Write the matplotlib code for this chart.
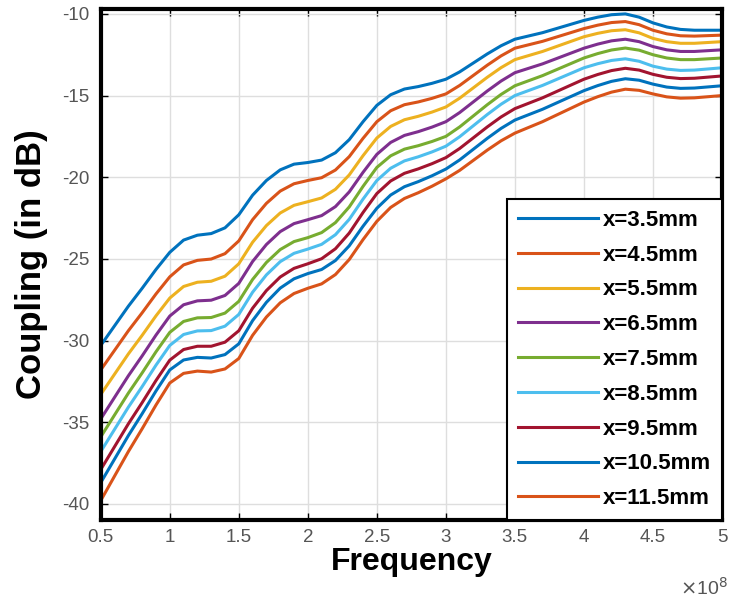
import matplotlib
matplotlib.use("Agg")
import matplotlib.pyplot as plt
import numpy as np
from matplotlib.ticker import FuncFormatter

plt.rcParams['font.family'] = ['Liberation Sans', 'DejaVu Sans']
plt.rcParams['axes.unicode_minus'] = False

# frequency in units of 1e8 Hz
freq_e8 = [0.5, 0.6, 0.7, 0.8, 0.9, 1.0, 1.1, 1.2, 1.3, 1.4,
           1.5, 1.6, 1.7, 1.8, 1.9, 2.0, 2.1, 2.2, 2.3, 2.4,
           2.5, 2.6, 2.7, 2.8, 2.9, 3.0, 3.1, 3.2, 3.3, 3.4,
           3.5, 3.6, 3.7, 3.8, 3.9, 4.0, 4.1, 4.2, 4.3, 4.4,
           4.5, 4.6, 4.7, 4.8, 4.9, 5.0]

x35 = [-30.3, -29.1, -27.9, -26.8, -25.65, -24.6, -23.85, -23.55, -23.45, -23.1,
       -22.3, -21.1, -20.2, -19.55, -19.2, -19.1, -18.95, -18.5, -17.7, -16.6,
       -15.6, -14.95, -14.6, -14.45, -14.25, -14.0, -13.55, -13.0, -12.45, -11.95,
       -11.55, -11.35, -11.15, -10.9, -10.65, -10.4, -10.2, -10.05, -10.0, -10.2,
       -10.55, -10.8, -10.95, -11.0, -11.0, -11.0]
x45 = [-31.8, -30.6, -29.4, -28.3, -27.15, -26.1, -25.37, -25.09, -25.01, -24.68,
       -23.9, -22.6, -21.6, -20.85, -20.4, -20.2, -20.03, -19.56, -18.74, -17.62,
       -16.6, -15.93, -15.56, -15.39, -15.17, -14.9, -14.38, -13.76, -13.14, -12.57,
       -12.1, -11.89, -11.68, -11.42, -11.16, -10.9, -10.69, -10.53, -10.47, -10.66,
       -11.0, -11.22, -11.34, -11.36, -11.33, -11.3]
x55 = [-33.3, -32.06, -30.82, -29.68, -28.49, -27.4, -26.69, -26.43, -26.37, -26.06,
       -25.3, -23.98, -22.96, -22.19, -21.72, -21.5, -21.27, -20.74, -19.86, -18.68,
       -17.6, -16.89, -16.48, -16.27, -16.01, -15.7, -15.16, -14.52, -13.88, -13.29,
       -12.8, -12.55, -12.3, -12.0, -11.7, -11.4, -11.19, -11.03, -10.97, -11.16,
       -11.5, -11.7, -11.8, -11.8, -11.75, -11.7]
x65 = [-34.8, -33.48, -32.16, -30.94, -29.67, -28.5, -27.81, -27.57, -27.53, -27.24,
       -26.5, -25.16, -24.12, -23.33, -22.84, -22.6, -22.35, -21.8, -20.9, -19.7,
       -18.6, -17.87, -17.44, -17.21, -16.93, -16.6, -16.04, -15.38, -14.72, -14.11,
       -13.6, -13.33, -13.06, -12.74, -12.42, -12.1, -11.85, -11.65, -11.55, -11.7,
       -12.0, -12.2, -12.3, -12.3, -12.25, -12.2]
x75 = [-35.9, -34.56, -33.22, -31.98, -30.69, -29.5, -28.83, -28.61, -28.59, -28.32,
       -27.6, -26.26, -25.22, -24.43, -23.94, -23.7, -23.39, -22.78, -21.82, -20.56,
       -19.4, -18.69, -18.28, -18.07, -17.81, -17.5, -16.92, -16.24, -15.56, -14.93,
       -14.4, -14.09, -13.78, -13.42, -13.06, -12.7, -12.43, -12.21, -12.09, -12.22,
       -12.5, -12.7, -12.8, -12.8, -12.75, -12.7]
x85 = [-36.8, -35.44, -34.08, -32.82, -31.51, -30.3, -29.63, -29.41, -29.39, -29.12,
       -28.4, -27.04, -25.98, -25.17, -24.66, -24.4, -24.11, -23.52, -22.58, -21.34,
       -20.2, -19.45, -19.0, -18.75, -18.45, -18.1, -17.52, -16.84, -16.16, -15.53,
       -15.0, -14.69, -14.38, -14.02, -13.66, -13.3, -13.05, -12.85, -12.75, -12.9,
       -13.2, -13.38, -13.46, -13.44, -13.37, -13.3]
x95 = [-37.9, -36.5, -35.1, -33.8, -32.45, -31.2, -30.55, -30.35, -30.35, -30.1,
       -29.4, -28.02, -26.94, -26.11, -25.58, -25.3, -24.99, -24.38, -23.42, -22.16,
       -21.0, -20.23, -19.76, -19.49, -19.17, -18.8, -18.24, -17.58, -16.92, -16.31,
       -15.8, -15.47, -15.14, -14.76, -14.38, -14.0, -13.71, -13.47, -13.33, -13.44,
       -13.7, -13.88, -13.96, -13.94, -13.87, -13.8]
x105 = [-38.7, -37.26, -35.82, -34.48, -33.09, -31.8, -31.19, -31.03, -31.07, -30.86,
        -30.2, -28.78, -27.66, -26.79, -26.22, -25.9, -25.65, -25.1, -24.2, -23.0,
        -21.9, -21.09, -20.58, -20.27, -19.91, -19.5, -18.94, -18.28, -17.62, -17.01,
        -16.5, -16.17, -15.84, -15.46, -15.08, -14.7, -14.39, -14.13, -13.97, -14.06,
        -14.3, -14.48, -14.56, -14.54, -14.47, -14.4]
x115 = [-39.8, -38.3, -36.8, -35.4, -33.95, -32.6, -32.01, -31.87, -31.93, -31.74,
        -31.1, -29.68, -28.56, -27.69, -27.12, -26.8, -26.53, -25.96, -25.04, -23.82,
        -22.7, -21.85, -21.3, -20.95, -20.55, -20.1, -19.58, -18.96, -18.34, -17.77,
        -17.3, -16.95, -16.6, -16.2, -15.8, -15.4, -15.07, -14.79, -14.61, -14.68,
        -14.9, -15.08, -15.16, -15.14, -15.07, -15.0]

curves = [x35, x45, x55, x65, x75, x85, x95, x105, x115]
labels = ['x=3.5mm', 'x=4.5mm', 'x=5.5mm', 'x=6.5mm', 'x=7.5mm',
          'x=8.5mm', 'x=9.5mm', 'x=10.5mm', 'x=11.5mm']
colors = ['#0072BD', '#D95319', '#EDB120', '#7E2F8E', '#77AC30',
          '#4DBEEE', '#A2142F', '#0072BD', '#D95319']

freq = np.array(freq_e8) * 1e8

fig = plt.figure(figsize=(7.3, 6.0), dpi=100)
ax = fig.add_axes([0.138, 0.133, 0.851, 0.852])

for y, lab, c in zip(curves, labels, colors):
    ax.plot(freq, y, color=c, lw=2.2, label=lab, solid_joinstyle='round')

ax.set_xlim(0.5e8, 5e8)
ax.set_ylim(-41, -9.7)
ax.set_xticks([0.5e8 * k for k in range(1, 11)])
ax.set_yticks([-40, -35, -30, -25, -20, -15, -10])
ax.xaxis.set_major_formatter(FuncFormatter(lambda v, p: f"{v / 1e8:g}"))
ax.grid(True, color='#dedede', lw=1)
ax.tick_params(direction='in', length=5, width=1, labelsize=13.5,
               labelcolor='#555555', top=True, right=True)
ax.tick_params(axis='x', pad=6)
ax.tick_params(axis='y', pad=8)
for s in ax.spines.values():
    s.set_linewidth(3)
    s.set_color('black')

ax.set_xlabel('Frequency', fontsize=23, fontweight='bold', labelpad=1)
ax.set_ylabel('Coupling (in dB)', fontsize=25, fontweight='bold')
ax.yaxis.set_label_coords(-0.085, 0.5)
ax.text(1.01, -0.11, r'$\times$10$^8$', transform=ax.transAxes, ha='right',
        va='top', fontsize=14, color='#555555')

leg = ax.legend(loc='lower right', borderaxespad=0, fancybox=False,
                prop={'weight': 'bold', 'size': 16}, handlelength=3.6,
                handletextpad=0.2, labelspacing=0.62, framealpha=1,
                borderpad=0.5)
leg.get_frame().set_edgecolor('black')
leg.get_frame().set_linewidth(1.5)

fig.savefig('out.png', dpi=100)
